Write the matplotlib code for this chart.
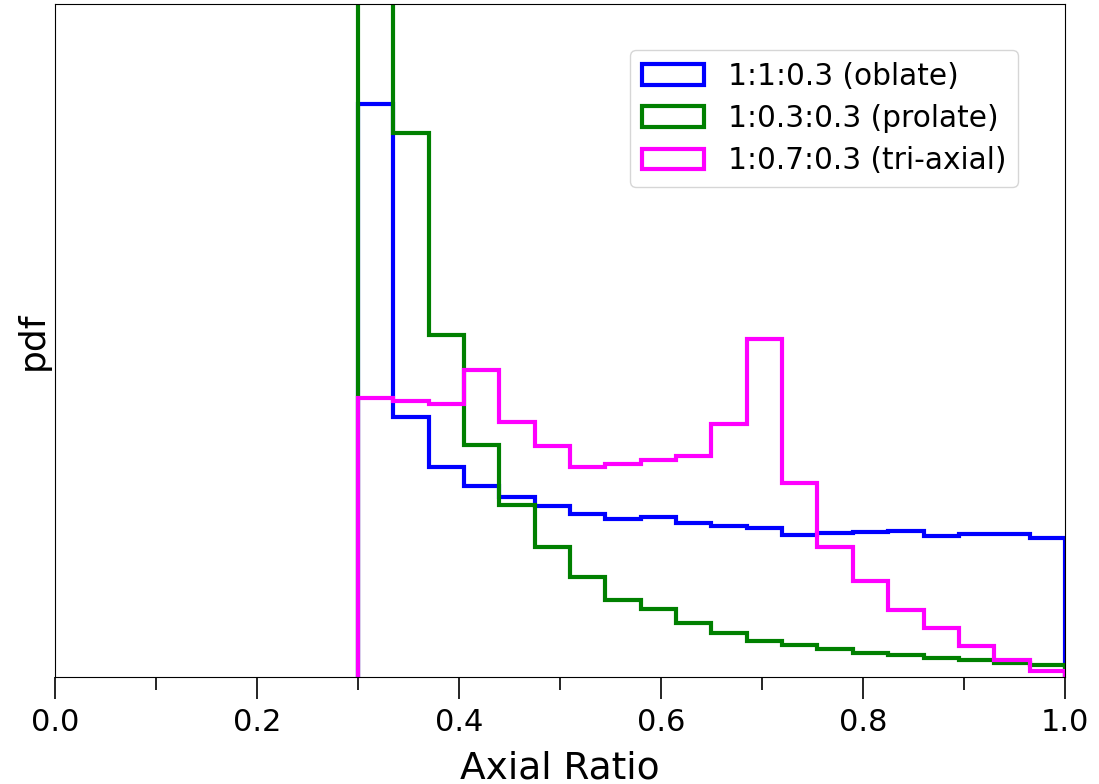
import numpy as np
import matplotlib
matplotlib.use("Agg")
import matplotlib.pyplot as plt
from matplotlib.ticker import MultipleLocator

# Bin edges (20 bins between 0.3 and 1.0)
bin_edges = [0.3, 0.335, 0.37, 0.405, 0.44, 0.475, 0.51, 0.545, 0.58, 0.615,
             0.65, 0.685, 0.72, 0.755, 0.79, 0.825, 0.86, 0.895, 0.93, 0.965, 1.0]

# Heights (arbitrary pdf units)
oblate = [573, 260, 210, 191, 180, 171, 163, 158, 160, 154,
          151, 149, 142, 144, 145, 146, 141, 143, 143, 139]
prolate = [1200, 544, 342, 232, 172, 130, 100, 77, 68, 54,
           44, 36, 32, 28, 24, 22, 19, 17, 14, 12]
triaxial = [279, 276, 273, 307, 255, 231, 210, 213, 217, 221,
            253, 338, 194, 130, 96, 67, 49, 31, 17, 6]

labels = ["1:1:0.3 (oblate)", "1:0.3:0.3 (prolate)", "1:0.7:0.3 (tri-axial)"]
colors = ["blue", "green", "magenta"]
series = [oblate, prolate, triaxial]

fig = plt.figure(figsize=(10.99, 7.84), dpi=100)
ax = fig.add_axes([0.05, 0.1365, 0.919, 0.8585])

edges = np.array(bin_edges)
centers = 0.5 * (edges[:-1] + edges[1:])
for vals, lab, col in zip(series, labels, colors):
    ax.hist(centers, bins=edges, weights=vals, histtype="step",
            color=col, linewidth=3, label=lab)

ax.set_xlim(0.0, 1.0)
ax.set_ylim(0, 673)
ax.set_yticks([])
ax.xaxis.set_major_locator(MultipleLocator(0.2))
ax.xaxis.set_minor_locator(MultipleLocator(0.1))
ax.tick_params(axis="x", which="major", length=16, width=1.2, labelsize=22, pad=6)
ax.tick_params(axis="x", which="minor", length=9.5, width=1.2)
ax.set_xlabel("Axial Ratio", fontsize=27, labelpad=10)
ax.set_ylabel("pdf", fontsize=26)

ax.legend(loc="upper right", fontsize=21.3,
          bbox_to_anchor=(1018 / 1099, (784 - 50) / 784),
          bbox_transform=fig.transFigure, borderaxespad=0,
          handlelength=2.1, borderpad=0.4, labelspacing=0.45)

fig.savefig("out.png", dpi=100)
